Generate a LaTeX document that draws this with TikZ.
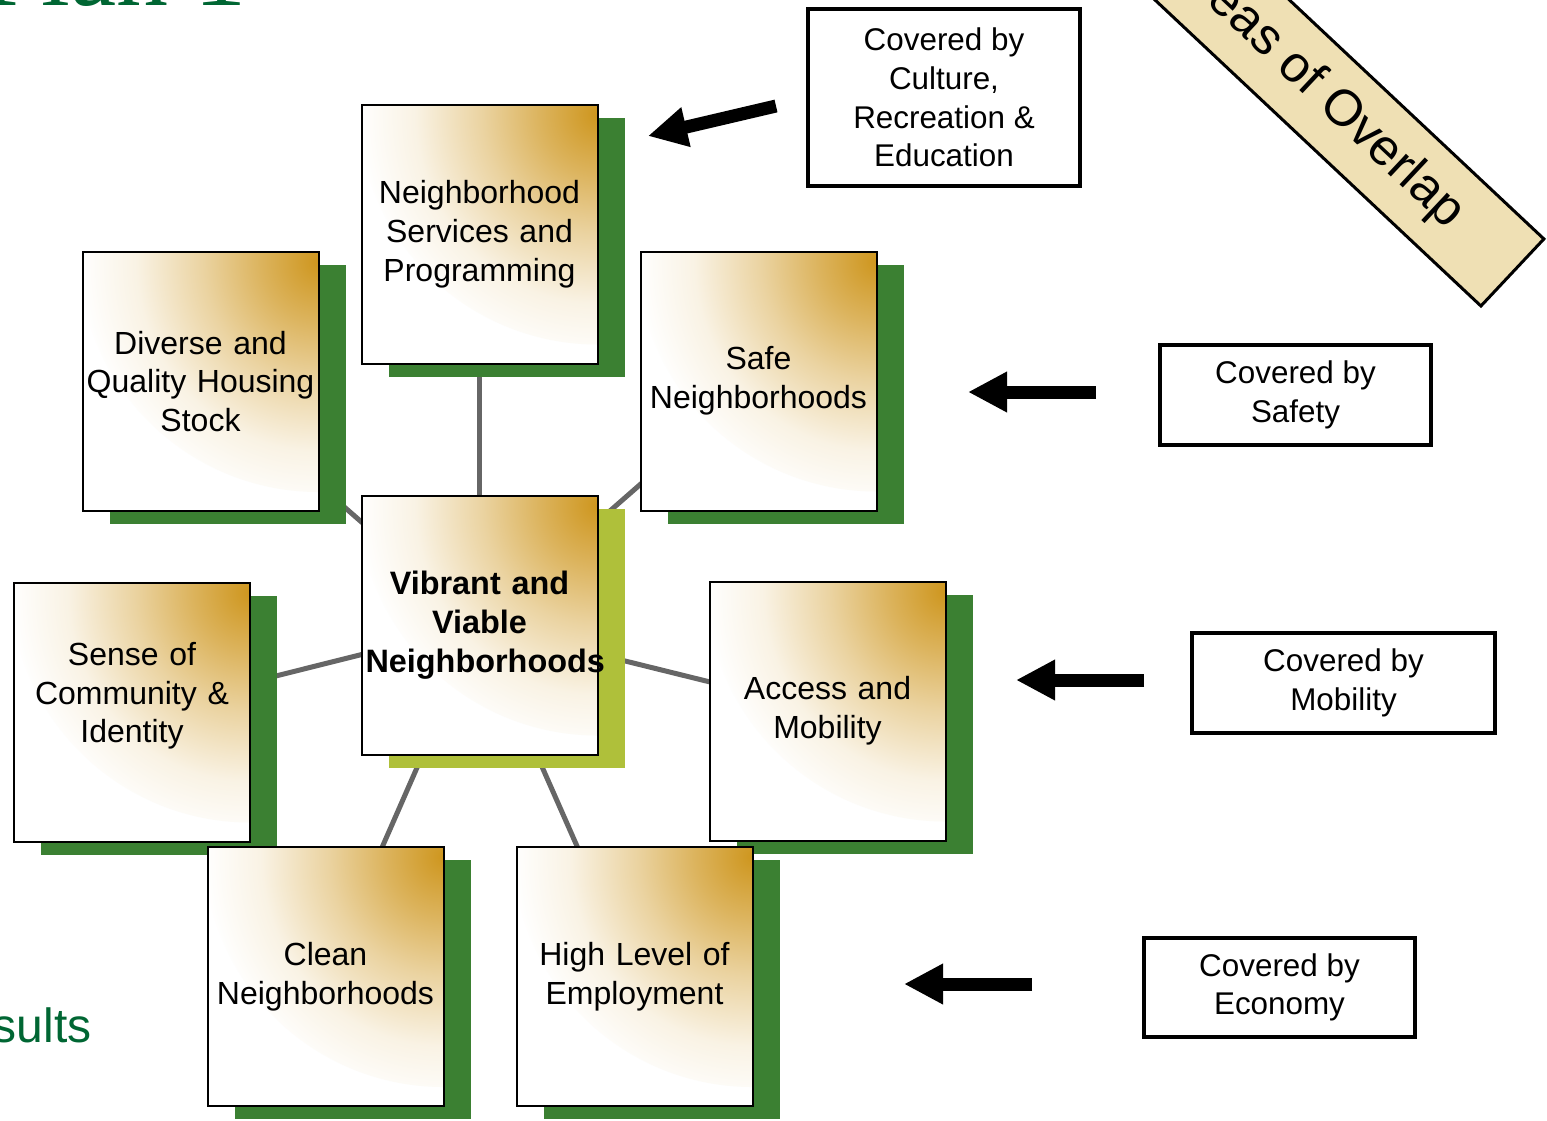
\documentclass[tikz,border=0pt]{standalone}
\usepackage{fontspec}
\setmainfont{Liberation Sans}
\newfontfamily\titlefont{Liberation Serif}
\usetikzlibrary{shadows,backgrounds,arrows.meta}

\definecolor{boxgold}{RGB}{206,150,30}
\colorlet{goldA}{boxgold!72!white}
\colorlet{goldB}{boxgold!42!white}
\colorlet{goldC}{boxgold!12!white}
\definecolor{leafgreen}{RGB}{59,128,50}
\definecolor{limegreen}{RGB}{175,192,58}
\definecolor{titlegreen}{RGB}{0,102,51}
\definecolor{bannertan}{RGB}{239,224,180}
\definecolor{spokegray}{RGB}{102,102,102}

\pgfdeclareradialshading{goldcorner}{\pgfpoint{0bp}{0bp}}{%
  color(0bp)=(boxgold); color(6bp)=(goldA); color(12bp)=(goldB);
  color(19bp)=(goldC); color(25bp)=(white); color(50bp)=(white)}

\tikzset{
  tile/.style={draw=black, line width=1pt, fill=white,
    minimum width=118pt, minimum height=129.5pt, inner sep=2pt,
    text width=114pt, align=center,
    font=\fontsize{16}{19.4}\selectfont,
    path picture={\shade[shading=goldcorner]
      (path picture bounding box.north east) circle (120pt);}},
  goal/.style={tile,
    drop shadow={shadow xshift=13.5pt, shadow yshift=-6.5pt, fill=leafgreen, opacity=1}},
  core/.style={tile, font=\fontsize{16.2}{19.4}\selectfont\bfseries,
    drop shadow={shadow xshift=13.5pt, shadow yshift=-6.5pt, fill=limegreen, opacity=1}},
  spoke/.style={draw=spokegray, line width=2.5pt},
  covered/.style={draw=black, line width=2pt, fill=white, align=center, inner sep=0pt,
    font=\fontsize{15.7}{19.3}\selectfont},
  pointer/.style={line width=6.5pt, -{Triangle[length=19.5pt,width=19pt]}},
  banner/.style={draw=black, line width=1.5pt, fill=bannertan, inner sep=0pt,
    font=\fontsize{25.5}{30}\selectfont}
}

\begin{document}
\begin{tikzpicture}[x=0.5pt, y=-0.5pt]
\useasboundingbox (0,0) rectangle (1547,1120);

% cut-off headings
\node[anchor=base east, inner sep=0pt, text=titlegreen,
  font=\titlefont\fontsize{52}{60}\selectfont] (plantitle) at (247,5) {Plan 1};
\node[anchor=base east, inner sep=0pt, text=titlegreen,
  font=\fontsize{24}{28}\selectfont] (results) at (92,1042) {Results};

% goal tiles
\node[goal] (nsp) at (479.5,234) {Neighborhood\\Services and\\Programming};
\node[goal] (dqh) at (200.5,381.5) {Diverse and\\Quality Housing\\Stock};
\node[goal] (safe) at (758.5,381) {Safe\\Neighborhoods};
\node[goal] (sense) at (132,712) {Sense of\\Community \&\\Identity\\\mbox{}};
\node[goal] (access) at (827.5,711) {Access and\\Mobility};
\node[goal] (clean) at (325.5,976.5) {Clean\\Neighborhoods};
\node[goal] (high) at (634.5,976.5) {High Level of\\Employment};
\node[core] (ctr) at (479.5,625) {Vibrant and\\Viable\\Neighborhoods};

\begin{scope}[on background layer]
  \foreach \g in {nsp,dqh,safe,sense,access,clean,high}
    \draw[spoke] (ctr.center) -- (\g.center);
\end{scope}

% covered by other plans
\node[covered, minimum width=136pt, minimum height=88.5pt] (culture) at (944,97.5)
  {Covered by\\Culture,\\Recreation \&\\Education};
\node[covered, minimum width=135.5pt, minimum height=50pt] (safety) at (1295.5,395)
  {Covered by\\Safety};
\node[covered, minimum width=151.5pt, minimum height=50pt] (mobility) at (1343.5,683)
  {Covered by\\Mobility};
\node[covered, minimum width=135.5pt, minimum height=49.5pt] (economy) at (1279.5,987.5)
  {Covered by\\Economy};

\coordinate (cultureTail) at (776,106);
\coordinate (cultureTip) at (648,136);
\coordinate (safetyTail) at (1096,392);
\coordinate (safetyTip) at (968,392);
\coordinate (mobilityTail) at (1144,680);
\coordinate (mobilityTip) at (1016,680);
\coordinate (economyTail) at (1032,984);
\coordinate (economyTip) at (904,984);
\foreach \c in {culture,safety,mobility,economy}
  \draw[pointer] (\c Tail) -- (\c Tip);

\node[banner, rotate=-43.2, minimum width=268pt, minimum height=46pt, anchor=east]
  (overlap) at (1513.5,273.5) {Areas of Overlap};
\end{tikzpicture}
\end{document}
